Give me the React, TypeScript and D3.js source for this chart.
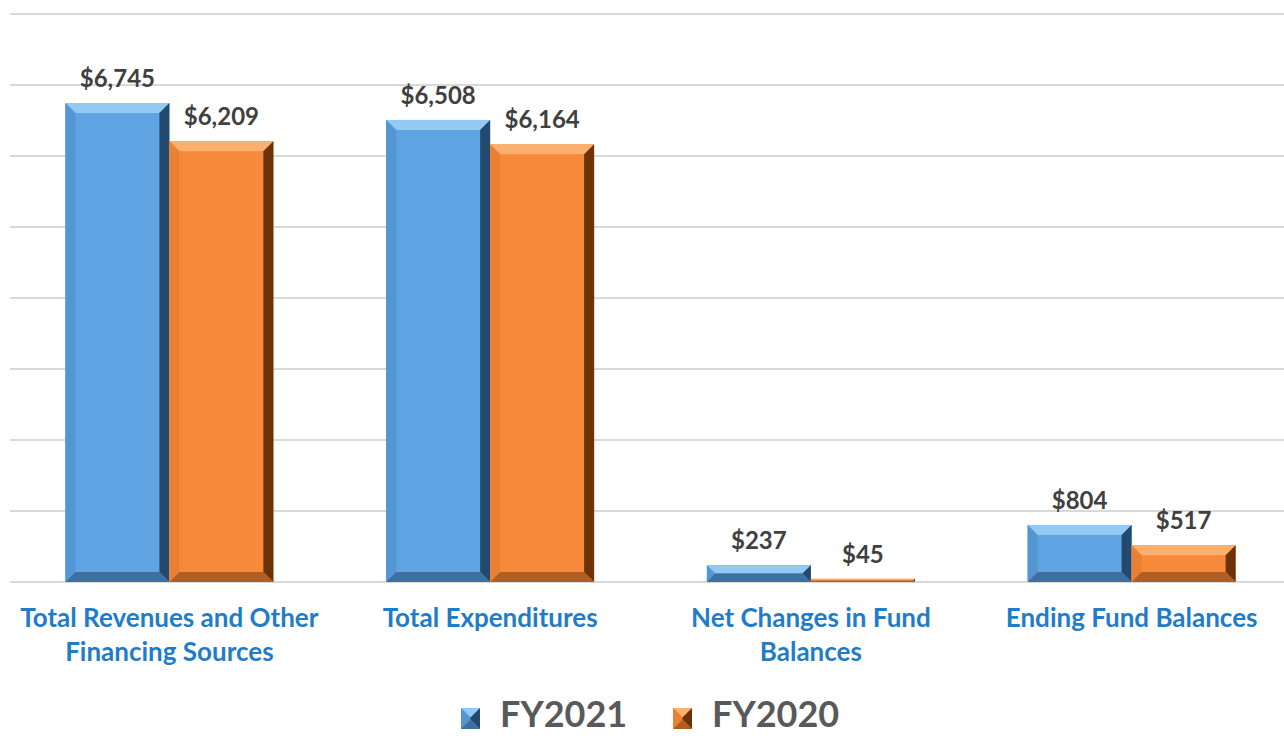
import { useEffect, useRef } from 'react';
import * as d3 from 'd3';

// values in $ millions
const categories = [
  ['Total Revenues and Other', 'Financing Sources'],
  ['Total Expenditures'],
  ['Net Changes in Fund', 'Balances'],
  ['Ending Fund Balances'],
];
const seriesNames = ['FY2021', 'FY2020'];
const fy2021 = [6745, 6508, 237, 804];
const fy2020 = [6209, 6164, 45, 517];
const yTicks = [0, 1000, 2000, 3000, 4000, 5000, 6000, 7000, 8000];

const palette = {
  FY2021: { main: '#5ea3e2', light: '#93c9f3', left: '#5496d4', right: '#234a6e', bottom: '#3f6f9c' },
  FY2020: { main: '#f7893a', light: '#fbb06f', left: '#ea8034', right: '#6e3209', bottom: '#b15e22' },
};

const App = () => {
  const chartRef = useRef<SVGSVGElement>(null);

  useEffect(() => {
    const width = 1284;
    const height = 736;
    const svg = d3.select(chartRef.current);
    svg.selectAll('*').remove();
    svg.attr('width', width).attr('height', height);

    const labels = categories.map((c) => c.join(' '));
    const x = d3.scaleBand().domain(labels).range([9, 1292]).padding(0);
    const x1 = d3.scaleBand().domain(seriesNames).range([0, 208]).padding(0);
    const y = d3.scaleLinear().domain([0, 8000]).range([582, 14]);

    // gridlines
    svg
      .append('g')
      .selectAll('line')
      .data(yTicks)
      .enter()
      .append('line')
      .attr('x1', 10)
      .attr('x2', width)
      .attr('y1', (d) => y(d))
      .attr('y2', (d) => y(d))
      .attr('stroke', '#d9d9d9')
      .attr('stroke-width', 2);

    const bevel = (g: any, bx: number, by: number, w: number, h: number, c: any, size: number) => {
      const b = Math.min(size, w / 2, h / 2);
      g.append('rect').attr('x', bx).attr('y', by).attr('width', w).attr('height', h).attr('fill', c.main);
      const faces = [
        [[bx, by], [bx + w, by], [bx + w - b, by + b], [bx + b, by + b], c.light],
        [[bx, by], [bx + b, by + b], [bx + b, by + h - b], [bx, by + h], c.left],
        [[bx + w, by], [bx + w, by + h], [bx + w - b, by + h - b], [bx + w - b, by + b], c.right],
        [[bx, by + h], [bx + w, by + h], [bx + w - b, by + h - b], [bx + b, by + h - b], c.bottom],
      ];
      faces.forEach((f) => {
        g.append('polygon')
          .attr('points', f.slice(0, 4).map((p: any) => p.join(',')).join(' '))
          .attr('fill', f[4] as string);
      });
    };

    const bars = svg.append('g');
    const valueSets = [fy2021, fy2020];
    labels.forEach((cat, i) => {
      const gx = x(cat)! + (x.bandwidth() - 208) / 2;
      seriesNames.forEach((s, j) => {
        const v = valueSets[j][i];
        const bx = gx + x1(s)!;
        const bw = x1.bandwidth();
        const by = y(v);
        const bh = y(0) - y(v);
        bevel(bars, bx, by, bw, bh, (palette as any)[s], 10);
        bars
          .append('text')
          .attr('x', bx + bw / 2)
          .attr('y', by - 16)
          .attr('text-anchor', 'middle')
          .attr('font-family', 'Lato')
          .attr('font-weight', 'bold')
          .attr('font-size', 24)
          .attr('fill', '#404040')
          .text('$' + d3.format(',')(v));
      });
    });

    // category labels
    const catG = svg.append('g');
    categories.forEach((lines, i) => {
      const cx = x(labels[i])! + x.bandwidth() / 2;
      lines.forEach((ln, k) => {
        catG
          .append('text')
          .attr('x', cx)
          .attr('y', 627 + k * 34)
          .attr('text-anchor', 'middle')
          .attr('font-family', 'Lato')
          .attr('font-weight', 'bold')
          .attr('font-size', 26)
          .attr('fill', '#1f7cc8')
          .text(ln);
      });
    });

    // legend
    const legend = svg.append('g');
    const legendX = [461, 673];
    seriesNames.forEach((s, j) => {
      bevel(legend, legendX[j], 708, 19, 21, (palette as any)[s], 10);
      legend
        .append('text')
        .attr('x', legendX[j] + 39)
        .attr('y', 727)
        .attr('font-family', 'Lato')
        .attr('font-weight', 'bold')
        .attr('font-size', 36)
        .attr('fill', '#595959')
        .text(s);
    });

    return () => {
      d3.select(chartRef.current).selectAll('*').remove();
    };
  }, []);

  return (
    <div style={{ position: 'absolute', left: 0, top: 0 }}>
      <svg ref={chartRef} style={{ display: 'block' }}></svg>
    </div>
  );
};

export default App;
